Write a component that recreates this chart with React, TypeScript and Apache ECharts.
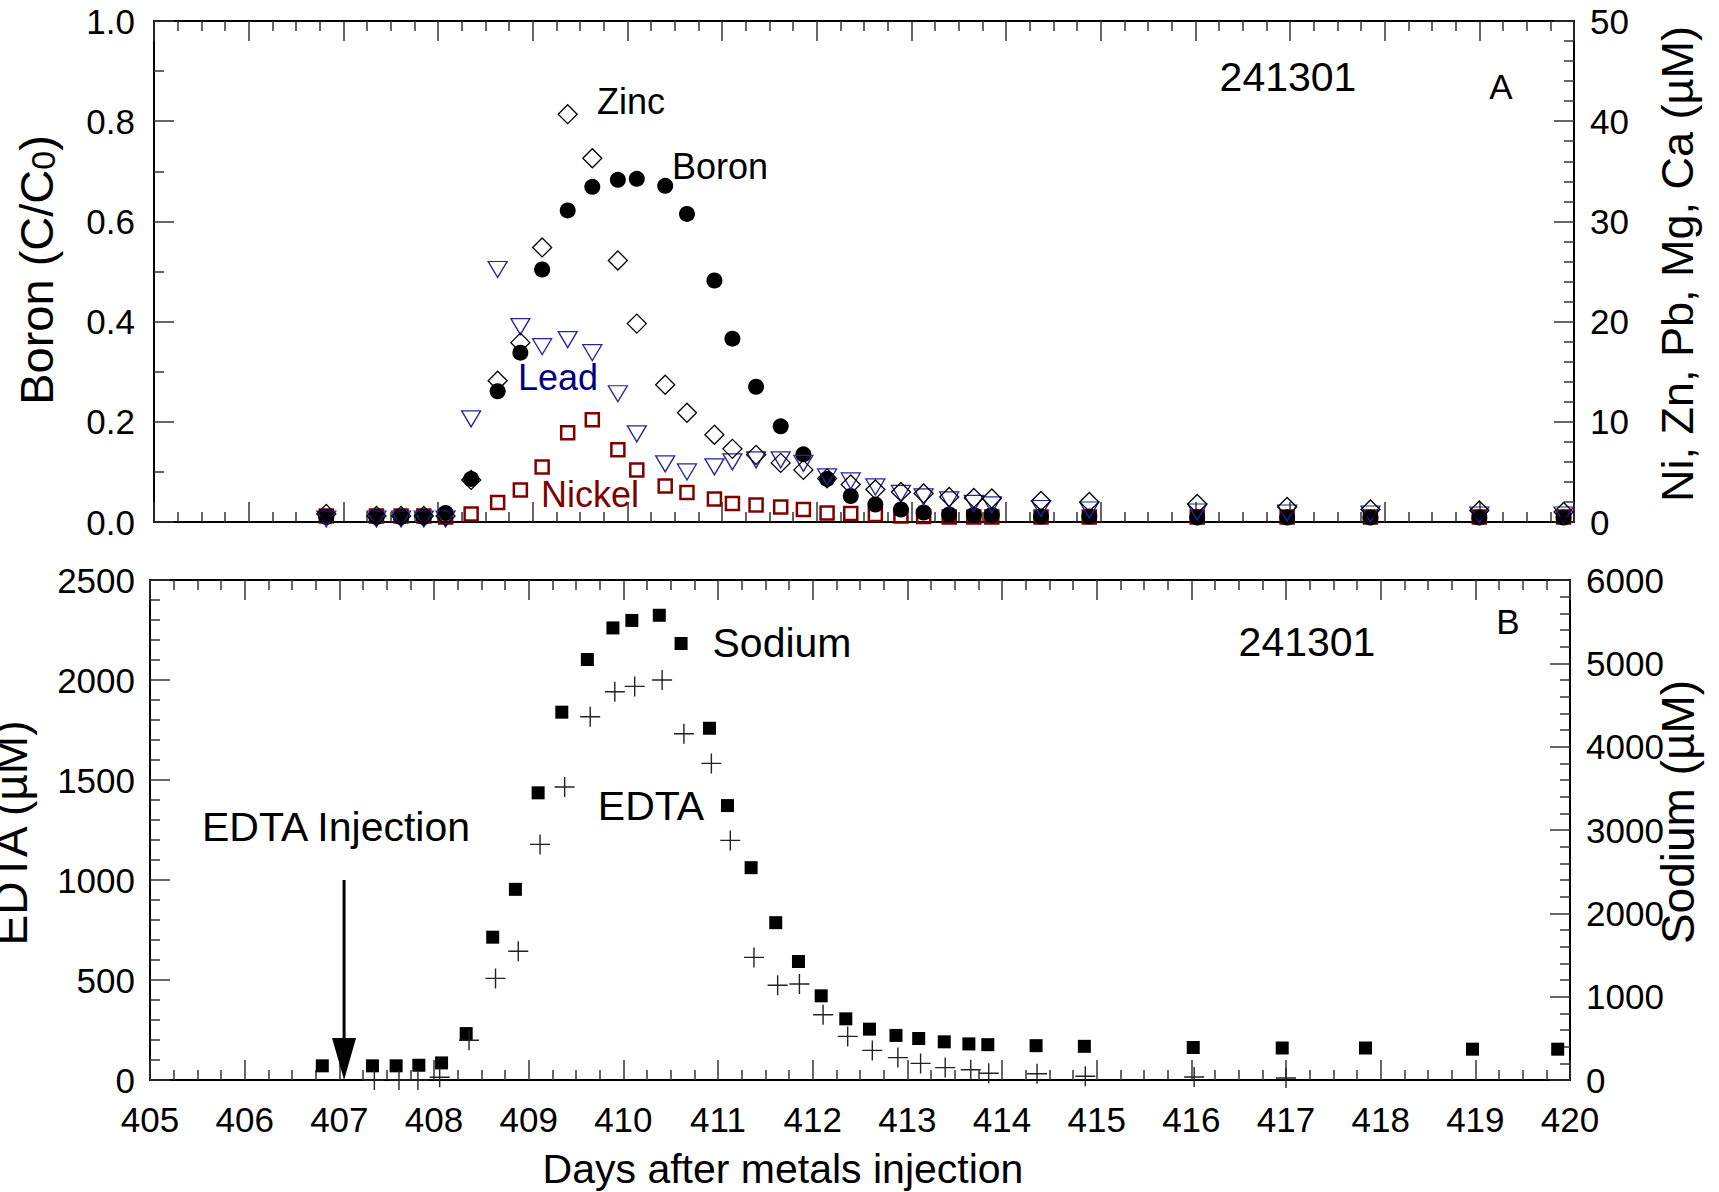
import React, { useEffect, useRef } from "react";
import * as echarts from "echarts";

// ---------- Panel A data (days after metals injection) ----------
const topDays = [
  406.82, 407.35, 407.61, 407.85, 408.08, 408.35, 408.63, 408.87, 409.1, 409.37,
  409.63, 409.9, 410.1, 410.4, 410.63, 410.92, 411.11, 411.36, 411.62, 411.86,
  412.11, 412.36, 412.62, 412.89, 413.13, 413.4, 413.66, 413.85, 414.37, 414.88,
  416.02, 416.97, 417.85, 419.0, 419.89,
];
const boron = [
  0.01, 0.01, 0.01, 0.01, 0.018, 0.086, 0.261, 0.338, 0.504, 0.622,
  0.669, 0.683, 0.685, 0.671, 0.615, 0.482, 0.366, 0.27, 0.191, 0.135,
  0.086, 0.052, 0.035, 0.025, 0.019, 0.015, 0.014, 0.014, 0.011, 0.011,
  0.009, 0.009, 0.009, 0.009, 0.009,
];
const zinc = [
  0.8, 0.6, 0.6, 0.6, 0.6, 4.2, 14.1, 17.9, 27.4, 40.7,
  36.3, 26.1, 19.8, 13.7, 10.9, 8.7, 7.3, 6.7, 5.9, 5.2,
  4.35, 3.75, 3.25, 3.0, 2.85, 2.5, 2.4, 2.35, 2.1, 2.0,
  1.8, 1.5, 1.25, 1.15, 1.0,
];
const lead = [
  0.3, 0.3, 0.3, 0.3, 0.3, 10.3, 25.2, 19.5, 17.5, 18.2,
  16.9, 12.8, 8.8, 5.8, 5.0, 5.5, 6.0, 6.2, 6.2, 5.85,
  4.5, 4.1, 3.5, 2.85, 2.5, 2.2, 1.85, 1.7, 1.35, 1.2,
  1.0, 0.9, 0.8, 0.7, 0.7,
];
const nickel = [
  0.6, 0.6, 0.6, 0.6, 0.5, 0.8, 1.95, 3.2, 5.5, 8.9,
  10.2, 7.2, 5.2, 3.6, 2.95, 2.3, 1.85, 1.7, 1.5, 1.25,
  0.9, 0.85, 0.75, 0.6, 0.55, 0.5, 0.5, 0.5, 0.5, 0.5,
  0.5, 0.5, 0.5, 0.5, 0.5,
];

// ---------- Panel B data ----------
const sodiumDays = [
  406.82, 407.35, 407.6, 407.84, 408.08, 408.34, 408.62, 408.86, 409.1, 409.35,
  409.62, 409.89, 410.09, 410.38, 410.61, 410.91, 411.1, 411.35, 411.61, 411.85,
  412.09, 412.35, 412.6, 412.88, 413.12, 413.39, 413.65, 413.85, 414.36, 414.87,
  416.02, 416.96, 417.84, 418.97, 419.87,
];
const sodium = [
  170, 170, 170, 177, 205, 557, 1714, 2288, 3446, 4414,
  5046, 5425, 5515, 5577, 5238, 4221, 3293, 2548, 1888, 1422,
  1010, 734, 610, 535, 498, 458, 433, 424, 412, 404,
  390, 384, 384, 370, 370,
];
const edtaDays = [
  407.37, 407.63, 407.83, 408.06, 408.37, 408.65, 408.89, 409.12, 409.38, 409.65,
  409.91, 410.12, 410.41, 410.64, 410.93, 411.13, 411.38, 411.63, 411.86, 412.11,
  412.37, 412.63, 412.9, 413.14, 413.4, 413.67, 413.86, 414.37, 414.88, 416.03,
  417.0,
];
const edta = [
  0, 0, 0, 14, 199, 508, 644, 1178, 1465, 1816,
  1941, 1968, 2000, 1731, 1583, 1198, 613, 474, 480, 326,
  218, 148, 112, 83, 62, 51, 34, 31, 19, 15,
  10,
];

// EDTA injection arrow (day, EDTA from -> to)
const arrowDay = 407.05;
const arrowTop = 1000;
const arrowShaftEnd = 150;

// Axis ranges
const dayRange = [405, 420];
const boronRange = [0, 1];
const metalRange = [0, 50];
const edtaRange = [0, 2500];
const sodiumRange = [0, 6000];

const FONT = "'Liberation Sans', Arial, Helvetica, sans-serif";

const pairs = (xs: number[], ys: number[]) => xs.map((x, i) => [x, ys[i]]);

const tickLine = { color: "#333", width: 1.5 };
const axisLine = { show: true, onZero: false, lineStyle: { color: "#000", width: 2 } };
const plain = (v: number) => String(v);

function xAxisCfg(gridIndex: number, position: string, showLabels: boolean) {
  return {
    type: "value",
    gridIndex,
    position,
    min: dayRange[0],
    max: dayRange[1],
    interval: 1,
    axisLine,
    axisTick: { show: true, inside: true, length: 20, lineStyle: tickLine },
    minorTick: { show: true, splitNumber: 4, length: 10, lineStyle: tickLine },
    axisLabel: {
      show: showLabels,
      fontSize: 35,
      fontFamily: FONT,
      color: "#000",
      margin: 22,
      formatter: plain,
    },
    splitLine: { show: false },
    minorSplitLine: { show: false },
  };
}

function yAxisCfg(
  gridIndex: number,
  position: string,
  range: number[],
  interval: number,
  minorSplit: number,
  margin: number,
  formatter: (v: number) => string
) {
  return {
    type: "value",
    gridIndex,
    position,
    min: range[0],
    max: range[1],
    interval,
    axisLine,
    axisTick: { show: true, inside: true, length: 20, lineStyle: tickLine },
    minorTick: { show: true, splitNumber: minorSplit, length: 10, lineStyle: tickLine },
    axisLabel: {
      fontSize: 35,
      fontFamily: FONT,
      color: "#000",
      margin,
      formatter,
    },
    splitLine: { show: false },
  };
}

function txt(
  text: string,
  x: number,
  y: number,
  size: number,
  color = "#000",
  rotation = 0
) {
  return {
    type: "text",
    x,
    y,
    rotation,
    silent: true,
    style: {
      text,
      fontSize: size,
      fontFamily: FONT,
      fill: color,
      align: "center",
      verticalAlign: "middle",
    },
  };
}

const open = "rgba(0,0,0,0)";

export default function App() {
  const ref = useRef<HTMLDivElement>(null);

  useEffect(() => {
    if (!ref.current) return;
    const chart = echarts.init(ref.current, null, { renderer: "svg" });

    const option: any = {
      animation: false,
      backgroundColor: "#fff",
      grid: [
        { left: 154, top: 21, width: 1420, height: 501 },
        { left: 150, top: 580, width: 1420, height: 500 },
      ],
      xAxis: [
        xAxisCfg(0, "bottom", false),
        xAxisCfg(0, "top", false),
        xAxisCfg(1, "bottom", true),
        xAxisCfg(1, "top", false),
      ],
      yAxis: [
        yAxisCfg(0, "left", boronRange, 0.2, 2, 19, (v: number) => v.toFixed(1)),
        yAxisCfg(0, "right", metalRange, 10, 5, 16, plain),
        yAxisCfg(1, "left", edtaRange, 500, 5, 15, plain),
        yAxisCfg(1, "right", sodiumRange, 1000, 5, 16, plain),
      ],
      series: [
        {
          name: "Nickel",
          type: "scatter",
          xAxisIndex: 0,
          yAxisIndex: 1,
          symbol: "rect",
          symbolSize: 13,
          itemStyle: { color: open, borderColor: "#800000", borderWidth: 2.5, opacity: 1 },
          data: pairs(topDays, nickel),
          silent: true,
        },
        {
          name: "Boron",
          type: "scatter",
          xAxisIndex: 0,
          yAxisIndex: 0,
          symbol: "circle",
          symbolSize: 16,
          itemStyle: { color: "#000", opacity: 1 },
          data: pairs(topDays, boron),
          silent: true,
        },
        {
          name: "Lead",
          type: "scatter",
          xAxisIndex: 0,
          yAxisIndex: 1,
          symbol: "path://M0,0L20,0L10,17Z",
          symbolSize: [19, 16],
          itemStyle: { color: open, borderColor: "#2424a4", borderWidth: 1.3, opacity: 1 },
          data: pairs(topDays, lead),
          silent: true,
        },
        {
          name: "Zinc",
          type: "scatter",
          xAxisIndex: 0,
          yAxisIndex: 1,
          symbol: "diamond",
          symbolSize: 19,
          itemStyle: { color: open, borderColor: "#000", borderWidth: 1.3, opacity: 1 },
          data: pairs(topDays, zinc),
          silent: true,
        },
        {
          name: "Sodium",
          type: "scatter",
          xAxisIndex: 2,
          yAxisIndex: 3,
          symbol: "rect",
          symbolSize: 13,
          itemStyle: { color: "#000", opacity: 1 },
          data: pairs(sodiumDays, sodium),
          silent: true,
        },
        {
          name: "EDTA",
          type: "scatter",
          xAxisIndex: 2,
          yAxisIndex: 2,
          symbol: "path://M-1,-0.07H1V0.07H-1ZM-0.07,-1H0.07V1H-0.07Z",
          symbolSize: 20,
          itemStyle: { color: "#222", opacity: 1 },
          data: pairs(edtaDays, edta),
          silent: true,
        },
        {
          name: "arrowShaft",
          type: "line",
          xAxisIndex: 2,
          yAxisIndex: 2,
          symbol: "none",
          lineStyle: { color: "#000", width: 3 },
          data: [
            [arrowDay, arrowTop],
            [arrowDay, arrowShaftEnd],
          ],
          silent: true,
        },
        {
          name: "arrowHead",
          type: "scatter",
          xAxisIndex: 2,
          yAxisIndex: 2,
          symbol: "path://M0,0L24,0L12,42Z",
          symbolSize: [24, 42],
          symbolOffset: [0, -21],
          itemStyle: { color: "#000", opacity: 1 },
          data: [[arrowDay, 0]],
          silent: true,
          clip: false,
        },
      ],
      graphic: [
        // axis titles
        {
          type: "text",
          x: 34,
          y: 270,
          rotation: Math.PI / 2,
          silent: true,
          style: {
            text: "{a|Boron (C/C}{b|0}{a|)}",
            fill: "#000",
            align: "center",
            verticalAlign: "middle",
            rich: {
              a: { fontSize: 47, fontFamily: FONT, lineHeight: 52, verticalAlign: "bottom" },
              b: { fontSize: 34, fontFamily: FONT, lineHeight: 14, verticalAlign: "bottom" },
            },
          },
        },
        txt("Ni, Zn, Pb, Mg, Ca (\u00b5M)", 1677, 264, 45, "#000", Math.PI / 2),
        txt("EDTA (\u00b5M)", 11, 833, 46, "#000", Math.PI / 2),
        txt("Sodium (\u00b5M)", 1678, 812, 46, "#000", Math.PI / 2),
        txt("Days after metals injection", 783, 1169, 41),
        // panel A annotations
        txt("Zinc", 631, 101, 36),
        txt("Boron", 720, 166, 36),
        txt("Lead", 558, 377, 36, "#00007f"),
        txt("Nickel", 590, 494, 36, "#800000"),
        txt("241301", 1288, 77, 41),
        txt("A", 1501, 86, 35),
        // panel B annotations
        txt("Sodium", 782, 643, 41),
        txt("EDTA", 651, 806, 41),
        txt("EDTA Injection", 336, 827, 41),
        txt("241301", 1307, 642, 41),
        txt("B", 1508, 621, 35),
      ],
    };

    chart.setOption(option);
    return () => chart.dispose();
  }, []);

  return (
    <div
      ref={ref}
      style={{ position: "absolute", left: 0, top: 0, width: 1719, height: 1192, background: "#fff" }}
    />
  );
}
